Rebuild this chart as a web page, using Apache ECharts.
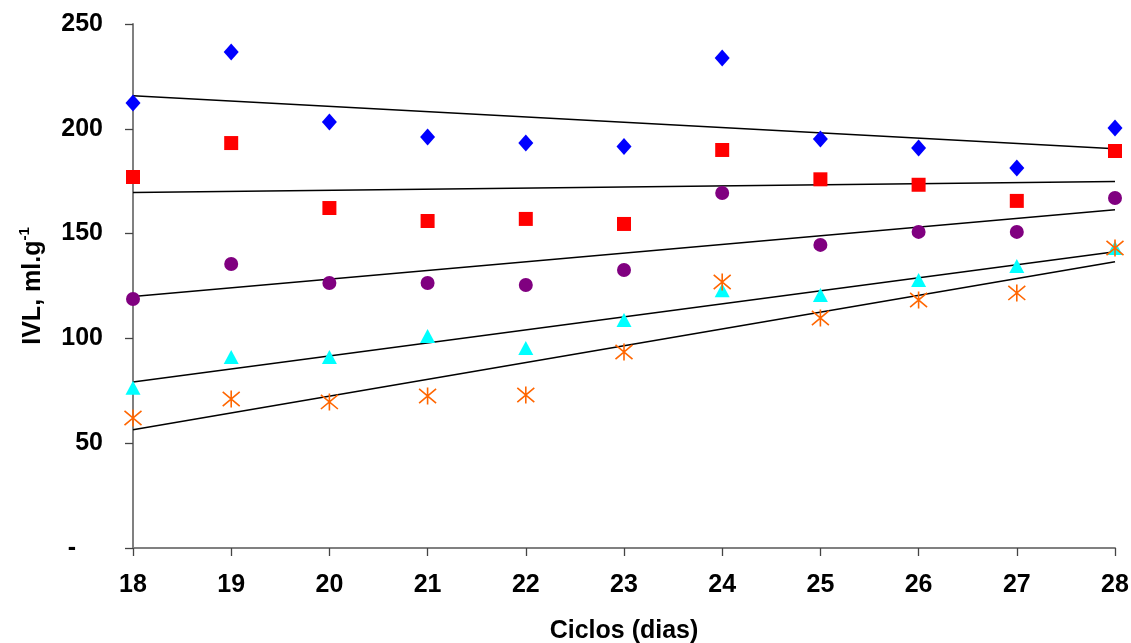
<!DOCTYPE html>
<html>
<head>
<meta charset="utf-8">
<script src="https://cdn.jsdelivr.net/npm/echarts@6/dist/echarts.min.js"></script>
<style>
  html, body { margin: 0; padding: 0; background: #fff; }
  #chart { width: 1131px; height: 643px; }
</style>
</head>
<body>
<div id="chart"></div>
<script>
// dias do ciclo
var days = [18, 19, 20, 21, 22, 23, 24, 25, 26, 27, 28]
// IVL por série
var serieAzul = [212.3, 236.6, 203.2, 196.1, 193.2, 191.6, 233.8, 195.1, 190.8, 181.3, 200.4]
var serieVermelha = [177.0, 193.2, 162.2, 156.0, 157.0, 154.6, 189.9, 175.9, 173.3, 165.6, 189.4]
var serieRoxa = [118.8, 135.5, 126.4, 126.4, 125.5, 132.6, 169.4, 144.6, 150.8, 150.8, 167.0]
var serieCiano = [76.5, 91.1, 91.1, 101.1, 95.4, 108.8, 123.0, 120.7, 127.9, 134.5, 143.1]
var serieLaranja = [62.0, 71.1, 69.7, 72.5, 73.0, 93.5, 126.9, 109.7, 118.3, 121.7, 143.1]
var yTicks = [0, 50, 100, 150, 200, 250]

function pares(ys) {
  return days.map(function(d, i) { return [d, ys[i]] })
}

// linha de tendência linear (mínimos quadrados), como no Excel
function tendencia(ys) {
  var n = days.length
  var mx = 0, my = 0
  for (var i = 0; i < n; i++) { mx += days[i]; my += ys[i] }
  mx /= n; my /= n
  var sxy = 0, sxx = 0
  for (var j = 0; j < n; j++) {
    sxy += (days[j] - mx) * (ys[j] - my)
    sxx += (days[j] - mx) * (days[j] - mx)
  }
  var b = sxy / sxx
  var a = my - b * mx
  var x0 = days[0], x1 = days[n - 1]
  return [[x0, a + b * x0], [x1, a + b * x1]]
}

function linhaTendencia(ys) {
  return {
    type: 'line',
    data: tendencia(ys),
    symbol: 'none',
    lineStyle: { color: '#000', width: 1.5 },
    z: 1
  }
}

var asterisco = 'path://M0,0L10,10M10,0L0,10M5,-1L5,11'
var fonte = { fontFamily: 'Liberation Sans', fontWeight: 'bold', fontSize: 25, color: '#000' }

var chart = echarts.init(document.getElementById('chart'))
chart.setOption({
  animation: false,
  grid: { left: 133, right: 16, top: 24, bottom: 95, containLabel: false, outerBoundsMode: 'none' },
  xAxis: {
    type: 'value',
    min: 18,
    max: 28,
    interval: 1,
    name: 'Ciclos (dias)',
    nameLocation: 'middle',
    nameGap: 71,
    nameTextStyle: fonte,
    axisLine: { lineStyle: { color: '#808080', width: 2 } },
    axisTick: { length: 8, lineStyle: { color: '#444', width: 1.3 } },
    axisLabel: Object.assign({ margin: 25 }, fonte),
    splitLine: { show: false }
  },
  yAxis: {
    type: 'value',
    min: yTicks[0],
    max: yTicks[yTicks.length - 1],
    interval: 50,
    name: '{a|IVL, ml.g}{s|-1}',
    nameLocation: 'middle',
    nameGap: 84,
    nameRotate: 90,
    nameTextStyle: {
      rich: {
        a: Object.assign({ lineHeight: 32 }, fonte),
        s: { fontFamily: 'Liberation Sans', fontWeight: 'bold', fontSize: 15, color: '#000', lineHeight: 32, verticalAlign: 'top', padding: [0, 0, 10, 0] }
      }
    },
    axisLine: { show: true, lineStyle: { color: '#808080', width: 2 } },
    axisTick: { show: true, length: 8, lineStyle: { color: '#444', width: 1.3 } },
    axisLabel: Object.assign({
      margin: 30,
      formatter: function(v) { return v === 0 ? '{z|-}' : String(v) },
      rich: {
        z: Object.assign({ padding: [0, 27, 0, 0] }, fonte)
      }
    }, fonte),
    splitLine: { show: false }
  },
  series: [
    linhaTendencia(serieAzul),
    linhaTendencia(serieVermelha),
    linhaTendencia(serieRoxa),
    linhaTendencia(serieCiano),
    linhaTendencia(serieLaranja),
    {
      type: 'scatter', data: pares(serieAzul), symbol: 'diamond', symbolSize: [15, 17],
      itemStyle: { color: '#0000FF', opacity: 1 }, z: 3
    },
    {
      type: 'scatter', data: pares(serieVermelha), symbol: 'rect', symbolSize: 14,
      itemStyle: { color: '#FF0000', opacity: 1 }, z: 3
    },
    {
      type: 'scatter', data: pares(serieRoxa), symbol: 'circle', symbolSize: 14,
      itemStyle: { color: '#800080', opacity: 1 }, z: 3
    },
    {
      type: 'scatter', data: pares(serieCiano), symbol: 'triangle', symbolSize: [15, 14],
      itemStyle: { color: '#00FFFF', opacity: 1 }, z: 3
    },
    {
      type: 'scatter', data: pares(serieLaranja), symbol: asterisco, symbolSize: [17, 17],
      itemStyle: { color: 'none', borderColor: '#FF6600', borderWidth: 1.6, opacity: 1 }, z: 4
    }
  ]
})
</script>
</body>
</html>
